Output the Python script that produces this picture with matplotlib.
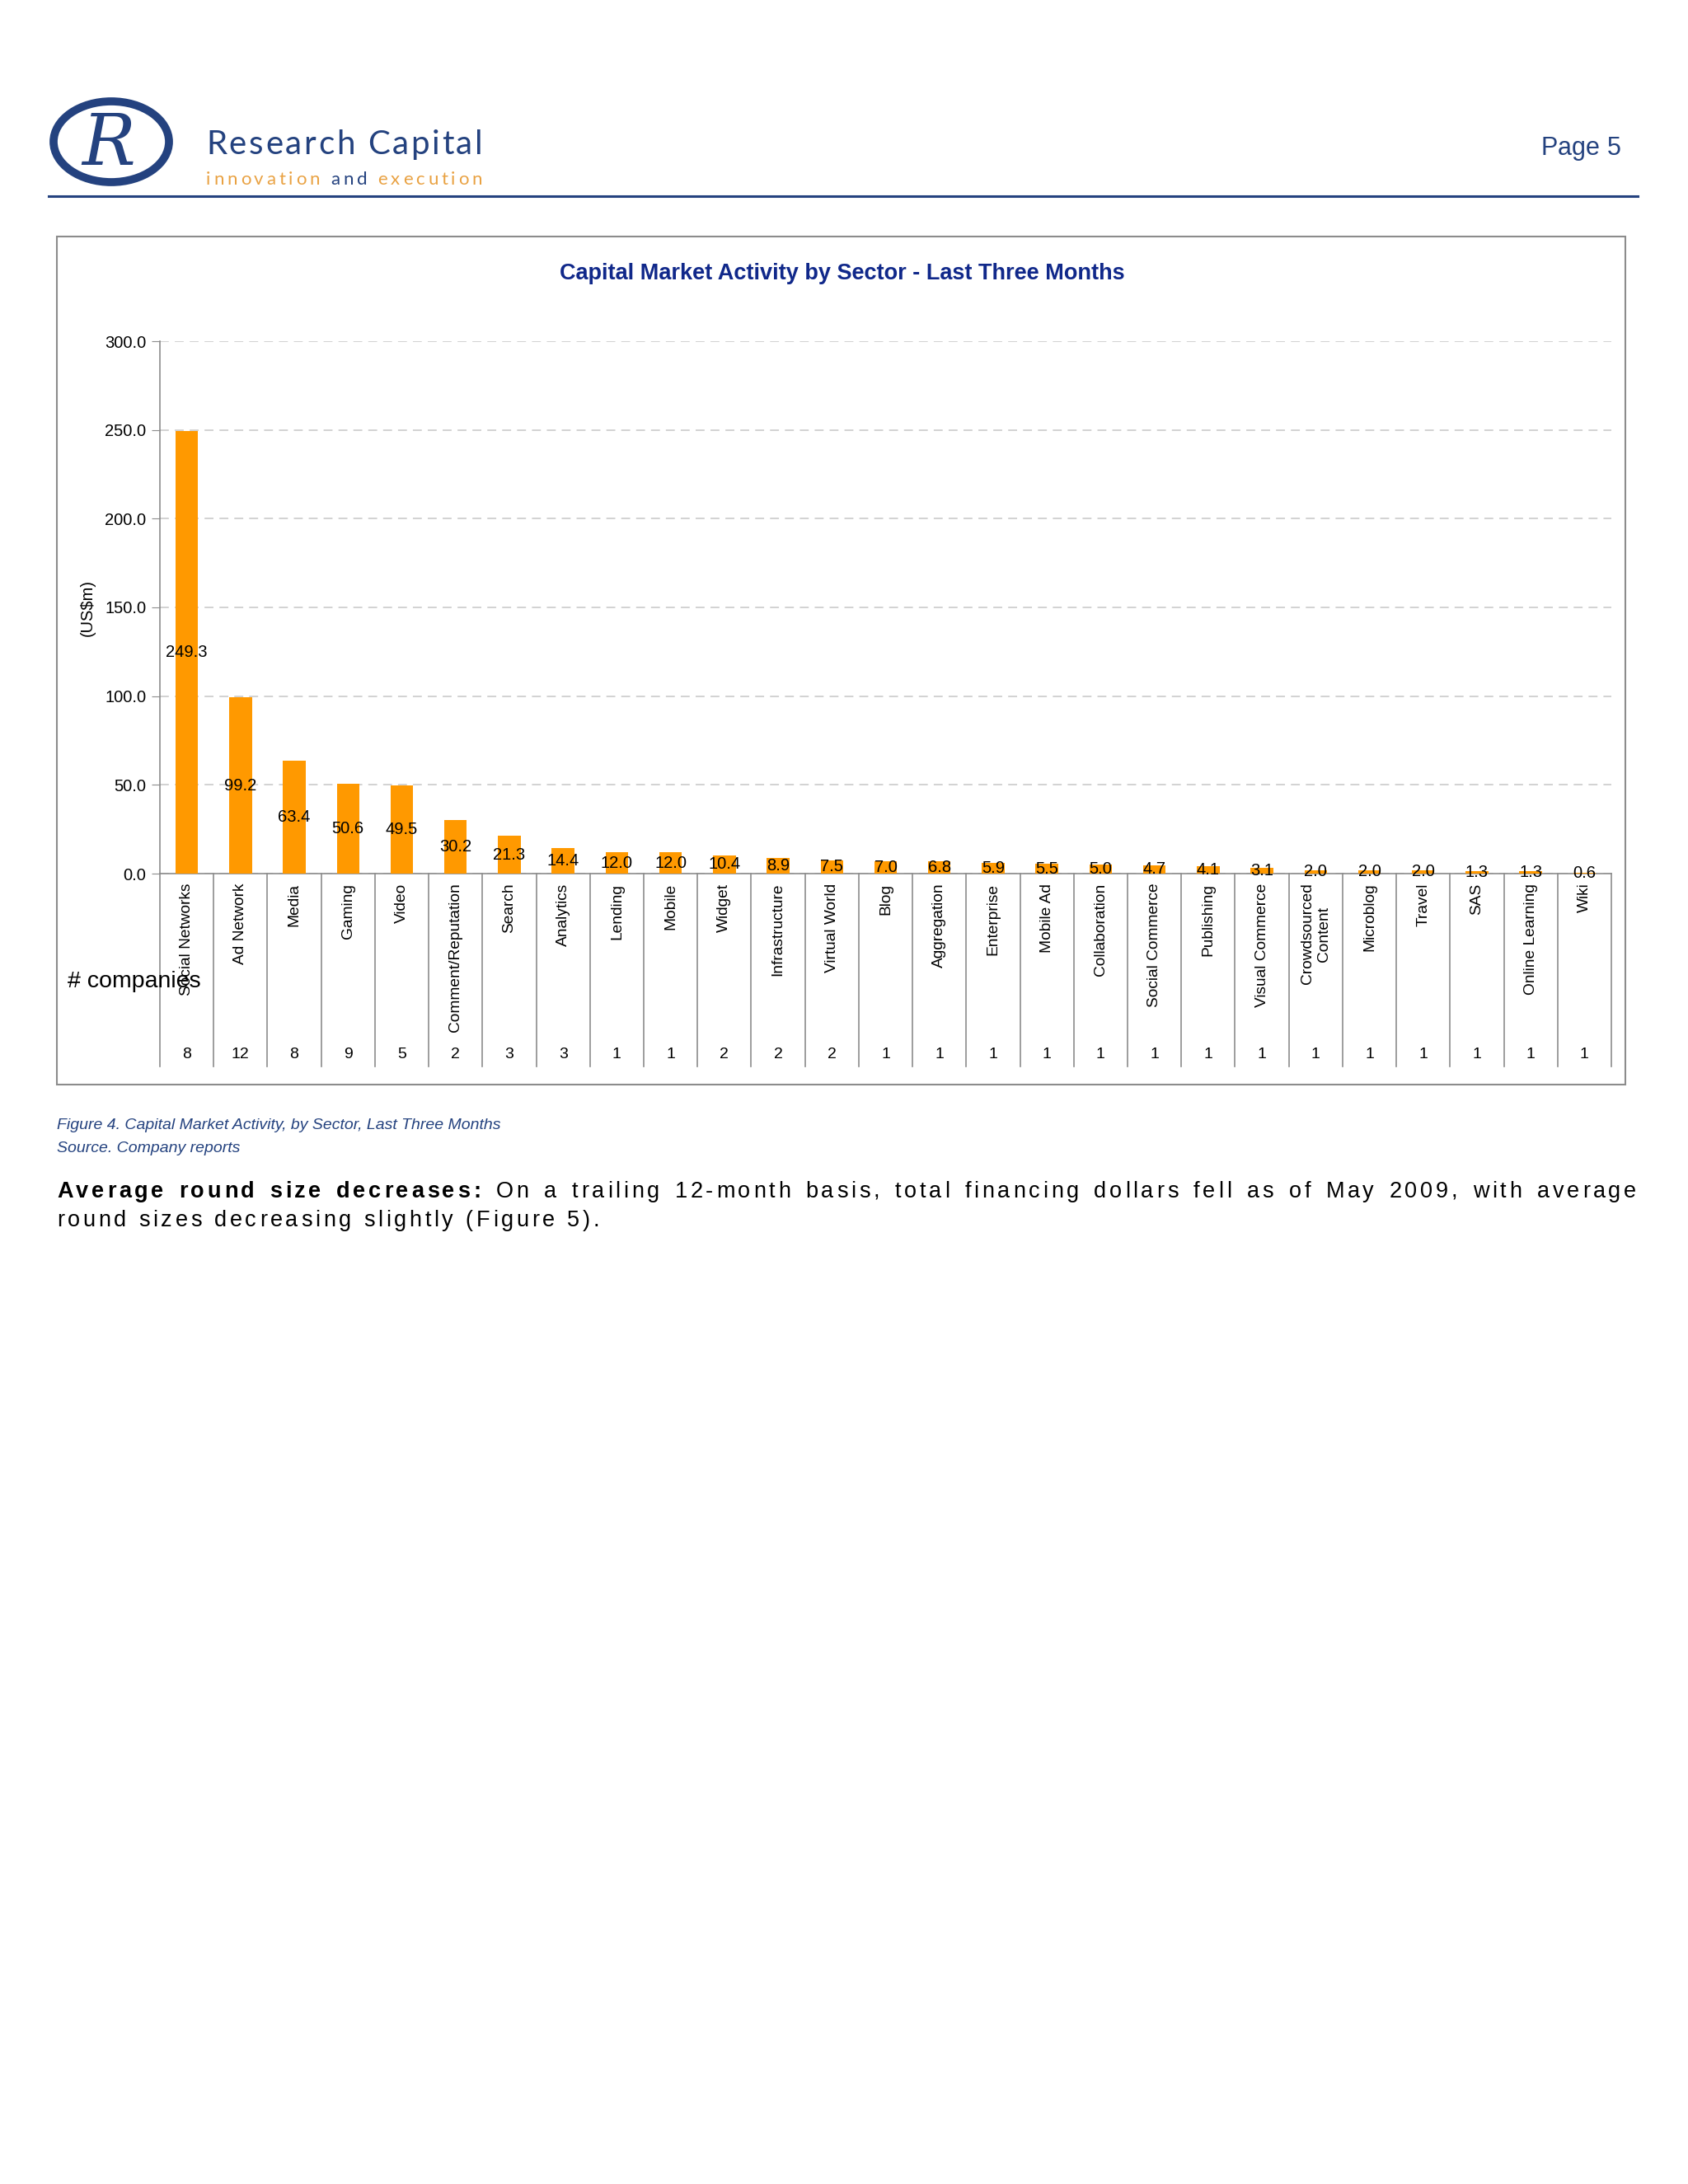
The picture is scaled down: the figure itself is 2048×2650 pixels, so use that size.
import numpy as np
import matplotlib
matplotlib.use("Agg")
import matplotlib.pyplot as plt
from matplotlib.patches import Ellipse, Rectangle
from matplotlib.lines import Line2D
from matplotlib import font_manager as fm
from matplotlib.ft2font import FT2Font

# data
sectors = ["Social Networks", "Ad Network", "Media", "Gaming", "Video", "Comment/Reputation",
           "Search", "Analytics", "Lending", "Mobile", "Widget", "Infrastructure",
           "Virtual World", "Blog", "Aggregation", "Enterprise", "Mobile Ad", "Collaboration",
           "Social Commerce", "Publishing", "Visual Commerce", "Crowdsourced\nContent",
           "Microblog", "Travel", "SAS", "Online Learning", "Wiki"]
amounts = [249.3, 99.2, 63.4, 50.6, 49.5, 30.2, 21.3, 14.4, 12.0, 12.0, 10.4, 8.9, 7.5, 7.0,
           6.8, 5.9, 5.5, 5.0, 4.7, 4.1, 3.1, 2.0, 2.0, 2.0, 1.3, 1.3, 0.6]
n_companies = [8, 12, 8, 9, 5, 2, 3, 3, 1, 1, 2, 2, 2, 1, 1, 1, 1, 1, 1, 1, 1, 1, 1, 1, 1, 1, 1]
y_ticks = [0, 50, 100, 150, 200, 250, 300]

W, H, DPI = 2048, 2650, 100
NAVY = "#24427F"
TITLE_BLUE = "#10288A"
ORANGE = "#FF9900"
LOGO_ORANGE = "#E9A243"
GRAY = "#8C8C8C"
NARROW = ["Liberation Sans Narrow", "Liberation Sans", "DejaVu Sans"]
SANS = ["Liberation Sans", "DejaVu Sans"]
LOGO_FONT = ["Lato", "Open Sans", "DejaVu Sans"]

fig = plt.figure(figsize=(W / DPI, H / DPI), dpi=DPI)
fig.patch.set_facecolor("white")


def fx(x):
    return x / W


def fy(y):
    return 1 - y / H


def advances(s, prop):
    # per character advance in pixels
    font = FT2Font(fm.findfont(prop), hinting_factor=1)
    font.set_size(prop.get_size_in_points(), DPI)
    return [font.load_char(ord(c)).linearHoriAdvance / 65536 for c in s]


def tracked_line(x0, y, segments, size, track=0.0, target=None, family=SANS):
    # segments: list of (text, weight, color); letter spaced, optionally justified to target width
    chars = []
    for txt, weight, color in segments:
        prop = fm.FontProperties(family=family, weight=weight, size=size)
        for c, a in zip(txt, advances(txt, prop)):
            chars.append((c, a, weight, color))
    natural = sum(a + track for _, a, _, _ in chars) - track
    n_sp = sum(1 for c in chars if c[0] == " ")
    extra = 0.0
    if target is not None and n_sp > 0:
        extra = (target - natural) / n_sp
    x = x0
    for c, a, weight, color in chars:
        if c != " ":
            fig.text(fx(x), fy(y), c, fontsize=size, weight=weight, color=color,
                     family=family, ha="left", va="baseline")
        x += a + track + (extra if c == " " else 0)


def fit_track(text, size, width, weight="normal", family=SANS):
    prop = fm.FontProperties(family=family, weight=weight, size=size)
    adv = advances(text, prop)
    return (width - sum(adv)) / (len(text) - 1)


# ---------- header ----------
ring = Ellipse((fx(135), fy(172)), 140 / W, 98 / H, angle=0, fill=False,
               edgecolor=NAVY, linewidth=7, transform=fig.transFigure)
fig.patches.append(ring)
fig.text(fx(132), fy(176), "R", fontsize=62, family=["DejaVu Serif"], style="italic",
         color=NAVY, ha="center", va="center")

tr = fit_track("Research Capital", 29, 335, family=LOGO_FONT)
tracked_line(250, 187, [("Research Capital", "normal", NAVY)], 29, track=tr, family=LOGO_FONT)
tag = "innovation and execution"
tr = fit_track(tag, 16, 335, family=LOGO_FONT)
tracked_line(250, 224, [("innovation ", "normal", LOGO_ORANGE), ("and ", "normal", NAVY),
                        ("execution", "normal", LOGO_ORANGE)], 16, track=tr, family=LOGO_FONT)

tr = fit_track("Page 5", 22, 98)
tracked_line(1869, 188, [("Page 5", "normal", NAVY)], 22, track=tr)
fig.add_artist(Line2D([fx(59), fx(1987)], [fy(238), fy(238)], color=NAVY, lw=2.2))

# ---------- chart frame ----------
fig.patches.append(Rectangle((fx(69), fy(1316)), (1972 - 69) / W, (1316 - 287) / H,
                             fill=False, edgecolor=GRAY, lw=1.5, transform=fig.transFigure))
fig.text(fx(1022), fy(332), "Capital Market Activity by Sector - Last Three Months",
         fontsize=19.5, weight="bold", color=TITLE_BLUE, family=NARROW, ha="center", va="center")

ax = fig.add_axes([fx(194), fy(1060), (1955 - 194) / W, (1060 - 414) / H])
x = np.arange(len(sectors))
ax.bar(x, amounts, width=0.42, color=ORANGE, zorder=3)
for xi, v in zip(x, amounts):
    ax.text(xi, v / 2, f"{v:.1f}", ha="center", va="center", fontsize=14.5,
            family=NARROW, color="black", zorder=4)

ax.set_xlim(-0.5, len(sectors) - 0.5)
ax.set_ylim(0, 300)
ax.set_yticks(y_ticks)
ax.set_yticklabels([f"{t:.1f}" for t in y_ticks], family=NARROW, fontsize=14.5)
ax.set_xticks([])
ax.yaxis.grid(True, linestyle=(0, (6, 4)), color="#CFCFCF", lw=1.3, zorder=0)
for side in ["top", "right"]:
    ax.spines[side].set_visible(False)
ax.spines["left"].set_color(GRAY)
ax.spines["bottom"].set_color(GRAY)
ax.spines["left"].set_linewidth(1.2)
ax.spines["bottom"].set_linewidth(1.2)
ax.tick_params(axis="y", length=7, color=GRAY, pad=5)
ax.set_ylabel("(US$m)", family=SANS, fontsize=14.5, labelpad=8)

# data table under the axis
tf = ax.get_xaxis_transform()
table_bottom = -(1294 - 1060) / (1060 - 414)
for b in np.arange(len(sectors) + 1) - 0.5:
    ax.add_line(Line2D([b, b], [0, table_bottom], transform=tf, color=GRAY, lw=1.2,
                       clip_on=False))
for xi, name, n in zip(x, sectors, n_companies):
    ax.text(xi, -0.018, name, transform=tf, rotation=90, ha="center", va="top",
            multialignment="center", fontsize=13.8, family=SANS, linespacing=1.25)
    ax.text(xi, -(1280 - 1060) / (1060 - 414), str(n), transform=tf, ha="center",
            va="center", fontsize=14, family=SANS)
fig.text(fx(82), fy(1191), "# companies", fontsize=20.5, family=NARROW, ha="left", va="center")

# ---------- caption and body ----------
fig.text(fx(69), fy(1366), "Figure 4. Capital Market Activity, by Sector, Last Three Months",
         fontsize=14, style="italic", color=NAVY, family=NARROW, ha="left", va="center")
fig.text(fx(69), fy(1393), "Source. Company reports",
         fontsize=14, style="italic", color=NAVY, family=NARROW, ha="left", va="center")

body2 = "round sizes decreasing slightly (Figure 5)."
tr = fit_track(body2, 19.5, 658)
tracked_line(69, 1453, [("Average round size decreases:", "bold", "black"),
                        (" On a trailing 12-month basis, total financing dollars fell as of "
                         "May 2009, with average", "normal", "black")], 19.5, track=tr, target=1916)
tracked_line(69, 1488, [(body2, "normal", "black")], 19.5, track=tr)

fig.savefig("out.png", dpi=DPI, facecolor="white")
